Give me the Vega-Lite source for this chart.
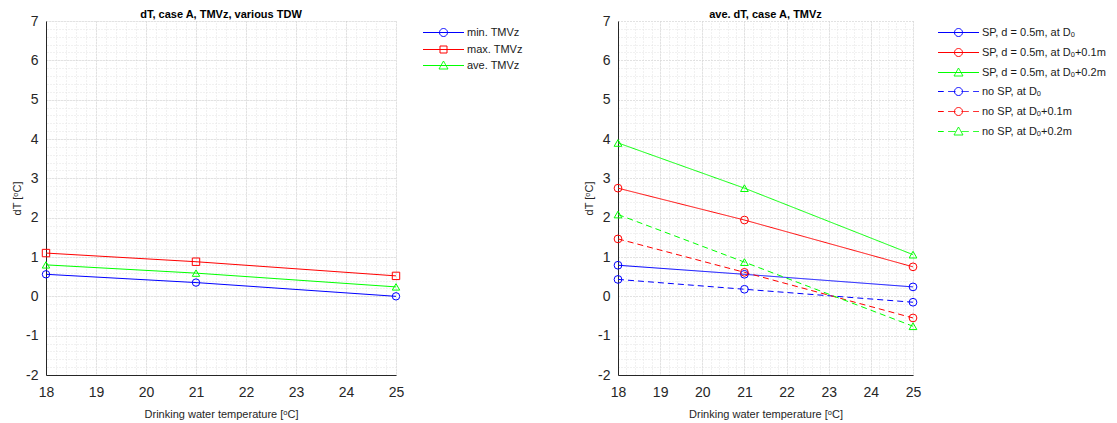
{
  "$schema": "https://vega.github.io/schema/vega-lite/v6.json",
  "background": "white",
  "padding": {"left": 11, "top": 9, "right": 5, "bottom": 5},
  "bounds": "flush",
  "spacing": 222,
  "resolve": {"scale": {"color": "independent", "shape": "independent", "strokeDash": "independent"}},
  "config": {
    "font": "Liberation Sans, DejaVu Sans",
    "view": {"stroke": null},
    "title": {"fontSize": 11, "fontWeight": "bold", "color": "#000000", "offset": -6, "frame": "group", "anchor": "middle"},
    "legend": {"labelFontSize": 11, "labelColor": "#1a1a1a", "symbolStrokeWidth": 1, "labelOffset": 18, "symbolSize": 100}
  },
  "datasets": {
    "left": [
      {"T": 18, "dT": 0.56, "s": "min. TMVz"},
      {"T": 21, "dT": 0.35, "s": "min. TMVz"},
      {"T": 25, "dT": 0.0, "s": "min. TMVz"},
      {"T": 18, "dT": 1.10, "s": "max. TMVz"},
      {"T": 21, "dT": 0.88, "s": "max. TMVz"},
      {"T": 25, "dT": 0.52, "s": "max. TMVz"},
      {"T": 18, "dT": 0.80, "s": "ave. TMVz"},
      {"T": 21, "dT": 0.59, "s": "ave. TMVz"},
      {"T": 25, "dT": 0.24, "s": "ave. TMVz"}
    ],
    "right": [
      {"T": 18, "dT": 0.79, "s": "SP, d = 0.5m, at Dₒ"},
      {"T": 21, "dT": 0.56, "s": "SP, d = 0.5m, at Dₒ"},
      {"T": 25, "dT": 0.24, "s": "SP, d = 0.5m, at Dₒ"},
      {"T": 18, "dT": 2.75, "s": "SP, d = 0.5m, at Dₒ+0.1m"},
      {"T": 21, "dT": 1.94, "s": "SP, d = 0.5m, at Dₒ+0.1m"},
      {"T": 25, "dT": 0.75, "s": "SP, d = 0.5m, at Dₒ+0.1m"},
      {"T": 18, "dT": 3.90, "s": "SP, d = 0.5m, at Dₒ+0.2m"},
      {"T": 21, "dT": 2.75, "s": "SP, d = 0.5m, at Dₒ+0.2m"},
      {"T": 25, "dT": 1.06, "s": "SP, d = 0.5m, at Dₒ+0.2m"},
      {"T": 18, "dT": 0.43, "s": "no SP, at Dₒ"},
      {"T": 21, "dT": 0.18, "s": "no SP, at Dₒ"},
      {"T": 25, "dT": -0.15, "s": "no SP, at Dₒ"},
      {"T": 18, "dT": 1.46, "s": "no SP, at Dₒ+0.1m"},
      {"T": 21, "dT": 0.61, "s": "no SP, at Dₒ+0.1m"},
      {"T": 25, "dT": -0.55, "s": "no SP, at Dₒ+0.1m"},
      {"T": 18, "dT": 2.08, "s": "no SP, at Dₒ+0.2m"},
      {"T": 21, "dT": 0.87, "s": "no SP, at Dₒ+0.2m"},
      {"T": 25, "dT": -0.76, "s": "no SP, at Dₒ+0.2m"}
    ]
  },
  "hconcat": [
    {
      "width": 350,
      "height": 354,
      "title": {"text": "dT, case A, TMVz, various TDW"},
      "data": {"name": "left"},
      "layer": [
        {
          "mark": {"type": "line", "strokeWidth": 1},
          "encoding": {
            "x": {"field": "T", "type": "quantitative", "scale": {"domain": [18, 25], "nice": false, "zero": false},
              "axis": {"orient": "bottom", "values": [18, 19, 20, 21, 22, 23, 24, 25], "grid": true, "gridDash": [1, 2], "gridColor": "#c4c4c4", "domain": true, "domainColor": "#262626", "ticks": false, "labelFontSize": 14, "labelColor": "#262626", "labelPadding": 10, "labelFlush": false, "title": "Drinking water temperature [ᵒC]", "titleFontSize": 11, "titleFontWeight": "normal", "titleColor": "#262626", "titlePadding": 9}},
            "y": {"field": "dT", "type": "quantitative", "scale": {"domain": [-2, 7], "nice": false, "zero": false},
              "axis": {"orient": "left", "values": [-2, -1, 0, 1, 2, 3, 4, 5, 6, 7], "labelExpr": "'' + datum.value", "grid": true, "gridDash": [1, 2], "gridColor": "#c4c4c4", "domain": true, "domainColor": "#262626", "ticks": false, "labelFontSize": 14, "labelColor": "#262626", "labelPadding": 8, "labelFlush": false, "title": "dT [ᵒC]", "titleFontSize": 11, "titleFontWeight": "normal", "titleColor": "#262626", "titlePadding": 3}},
            "color": {"field": "s", "type": "nominal",
              "scale": {"domain": ["min. TMVz", "max. TMVz", "ave. TMVz"], "range": ["#0000ff", "#ff0000", "#00ff00"]},
              "legend": {"orient": "none", "legendX": 392, "legendY": 6, "title": null, "rowPadding": 4,
                "encode": {"symbols": {"update": {"fill": {"value": "transparent"}, "strokeDash": {"value": [1, 0]},
                  "shape": {"signal": "['M-4.1,0H4.1M-0.8,0A0.8,0.8,0,1,1,0.8,0A0.8,0.8,0,1,1,-0.8,0','M-4.1,0H4.1M-0.7,-0.7H0.7V0.7H-0.7Z','M-4.1,0H4.1M0,-0.9L0.9,0.7L-0.9,0.7Z'][indexof(['min. TMVz','max. TMVz','ave. TMVz'], datum.value)]"}}}}}}
          }
        },
        {
          "mark": {"type": "point", "filled": false, "size": 55, "strokeWidth": 1, "opacity": 1},
          "encoding": {
            "x": {"field": "T", "type": "quantitative", "axis": {"orient": "top", "tickCount": 35, "grid": true, "gridDash": [1, 2], "gridColor": "#e2e2e2", "labels": false, "ticks": false, "domain": false, "title": null}},
            "y": {"field": "dT", "type": "quantitative", "axis": {"orient": "right", "tickCount": 45, "grid": true, "gridDash": [1, 2], "gridColor": "#e2e2e2", "labels": false, "ticks": false, "domain": false, "title": null}},
            "color": {"field": "s", "type": "nominal",
              "legend": {"orient": "none", "legendX": 392, "legendY": 6, "title": null, "rowPadding": 4,
                "encode": {"symbols": {"update": {"fill": {"value": "transparent"}, "strokeDash": {"value": [1, 0]},
                  "shape": {"signal": "['M-4.1,0H4.1M-0.8,0A0.8,0.8,0,1,1,0.8,0A0.8,0.8,0,1,1,-0.8,0','M-4.1,0H4.1M-0.7,-0.7H0.7V0.7H-0.7Z','M-4.1,0H4.1M0,-0.9L0.9,0.7L-0.9,0.7Z'][indexof(['min. TMVz','max. TMVz','ave. TMVz'], datum.value)]"}}}}}},
            "shape": {"field": "s", "type": "nominal",
              "scale": {"domain": ["ave. TMVz", "max. TMVz", "min. TMVz"], "range": ["triangle-up", "square", "circle"]},
              "legend": null}
          }
        }
      ]
    },
    {
      "width": 295,
      "height": 354,
      "title": {"text": "ave. dT, case A, TMVz"},
      "data": {"name": "right"},
      "layer": [
        {
          "mark": {"type": "line", "strokeWidth": 1},
          "encoding": {
            "x": {"field": "T", "type": "quantitative", "scale": {"domain": [18, 25], "nice": false, "zero": false},
              "axis": {"orient": "bottom", "values": [18, 19, 20, 21, 22, 23, 24, 25], "grid": true, "gridDash": [1, 2], "gridColor": "#c4c4c4", "domain": true, "domainColor": "#262626", "ticks": false, "labelFontSize": 14, "labelColor": "#262626", "labelPadding": 10, "labelFlush": false, "title": "Drinking water temperature [ᵒC]", "titleFontSize": 11, "titleFontWeight": "normal", "titleColor": "#262626", "titlePadding": 9}},
            "y": {"field": "dT", "type": "quantitative", "scale": {"domain": [-2, 7], "nice": false, "zero": false},
              "axis": {"orient": "left", "values": [-2, -1, 0, 1, 2, 3, 4, 5, 6, 7], "labelExpr": "'' + datum.value", "grid": true, "gridDash": [1, 2], "gridColor": "#c4c4c4", "domain": true, "domainColor": "#262626", "ticks": false, "labelFontSize": 14, "labelColor": "#262626", "labelPadding": 8, "labelFlush": false, "title": "dT [ᵒC]", "titleFontSize": 11, "titleFontWeight": "normal", "titleColor": "#262626", "titlePadding": 3}},
            "color": {"field": "s", "type": "nominal",
              "scale": {"domain": ["SP, d = 0.5m, at Dₒ", "SP, d = 0.5m, at Dₒ+0.1m", "SP, d = 0.5m, at Dₒ+0.2m", "no SP, at Dₒ", "no SP, at Dₒ+0.1m", "no SP, at Dₒ+0.2m"], "range": ["#0000ff", "#ff0000", "#00ff00", "#0000ff", "#ff0000", "#00ff00"]},
              "legend": {"orient": "none", "legendX": 335, "legendY": 6, "title": null, "rowPadding": 7,
                "encode": {"symbols": {"update": {"fill": {"value": "transparent"}, "strokeDash": {"value": [1, 0]},
                  "shape": {"signal": "['M-4.1,0H4.1M-0.8,0A0.8,0.8,0,1,1,0.8,0A0.8,0.8,0,1,1,-0.8,0','M-4.1,0H4.1M-0.8,0A0.8,0.8,0,1,1,0.8,0A0.8,0.8,0,1,1,-0.8,0','M-4.1,0H4.1M0,-0.9L0.9,0.7L-0.9,0.7Z','M-4.1,0H-2.95M-2.05,0H-0.6M0.6,0H2.05M2.95,0H4.1M-0.8,0A0.8,0.8,0,1,1,0.8,0A0.8,0.8,0,1,1,-0.8,0','M-4.1,0H-2.95M-2.05,0H-0.6M0.6,0H2.05M2.95,0H4.1M-0.8,0A0.8,0.8,0,1,1,0.8,0A0.8,0.8,0,1,1,-0.8,0','M-4.1,0H-2.95M-2.05,0H-0.6M0.6,0H2.05M2.95,0H4.1M0,-0.9L0.9,0.7L-0.9,0.7Z'][indexof(['SP, d = 0.5m, at Dₒ','SP, d = 0.5m, at Dₒ+0.1m','SP, d = 0.5m, at Dₒ+0.2m','no SP, at Dₒ','no SP, at Dₒ+0.1m','no SP, at Dₒ+0.2m'], datum.value)]"}}}}}},
            "strokeDash": {"field": "s", "type": "nominal",
              "scale": {"domain": ["no SP, at Dₒ+0.2m", "no SP, at Dₒ+0.1m", "no SP, at Dₒ", "SP, d = 0.5m, at Dₒ+0.2m", "SP, d = 0.5m, at Dₒ+0.1m", "SP, d = 0.5m, at Dₒ"], "range": [[6, 4], [6, 4], [6, 4], [1, 0], [1, 0], [1, 0]]},
              "legend": null}
          }
        },
        {
          "mark": {"type": "point", "filled": false, "size": 60, "strokeWidth": 1, "opacity": 1},
          "encoding": {
            "x": {"field": "T", "type": "quantitative", "axis": {"orient": "top", "tickCount": 35, "grid": true, "gridDash": [1, 2], "gridColor": "#e2e2e2", "labels": false, "ticks": false, "domain": false, "title": null}},
            "y": {"field": "dT", "type": "quantitative", "axis": {"orient": "right", "tickCount": 45, "grid": true, "gridDash": [1, 2], "gridColor": "#e2e2e2", "labels": false, "ticks": false, "domain": false, "title": null}},
            "color": {"field": "s", "type": "nominal",
              "legend": {"orient": "none", "legendX": 335, "legendY": 6, "title": null, "rowPadding": 7,
                "encode": {"symbols": {"update": {"fill": {"value": "transparent"}, "strokeDash": {"value": [1, 0]},
                  "shape": {"signal": "['M-4.1,0H4.1M-0.8,0A0.8,0.8,0,1,1,0.8,0A0.8,0.8,0,1,1,-0.8,0','M-4.1,0H4.1M-0.8,0A0.8,0.8,0,1,1,0.8,0A0.8,0.8,0,1,1,-0.8,0','M-4.1,0H4.1M0,-0.9L0.9,0.7L-0.9,0.7Z','M-4.1,0H-2.95M-2.05,0H-0.6M0.6,0H2.05M2.95,0H4.1M-0.8,0A0.8,0.8,0,1,1,0.8,0A0.8,0.8,0,1,1,-0.8,0','M-4.1,0H-2.95M-2.05,0H-0.6M0.6,0H2.05M2.95,0H4.1M-0.8,0A0.8,0.8,0,1,1,0.8,0A0.8,0.8,0,1,1,-0.8,0','M-4.1,0H-2.95M-2.05,0H-0.6M0.6,0H2.05M2.95,0H4.1M0,-0.9L0.9,0.7L-0.9,0.7Z'][indexof(['SP, d = 0.5m, at Dₒ','SP, d = 0.5m, at Dₒ+0.1m','SP, d = 0.5m, at Dₒ+0.2m','no SP, at Dₒ','no SP, at Dₒ+0.1m','no SP, at Dₒ+0.2m'], datum.value)]"}}}}}},
            "shape": {"field": "s", "type": "nominal",
              "scale": {"domain": ["no SP, at Dₒ+0.2m", "no SP, at Dₒ+0.1m", "no SP, at Dₒ", "SP, d = 0.5m, at Dₒ+0.2m", "SP, d = 0.5m, at Dₒ+0.1m", "SP, d = 0.5m, at Dₒ"], "range": ["triangle-up", "circle", "circle", "triangle-up", "circle", "circle"]},
              "legend": null}
          }
        }
      ]
    }
  ]
}
